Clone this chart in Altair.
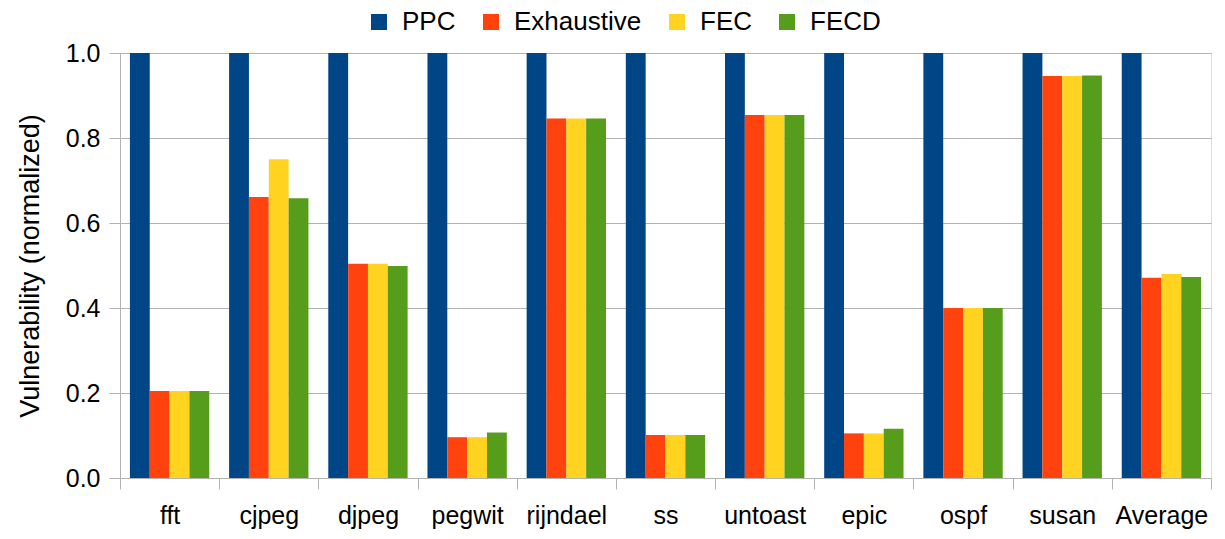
import altair as alt
import pandas as pd

# Benchmarks along the x axis
benchmarks = ["fft", "cjpeg", "djpeg", "pegwit", "rijndael", "ss",
              "untoast", "epic", "ospf", "susan", "Average"]

# Normalized vulnerability per technique
ppc        = [1.0, 1.0, 1.0, 1.0, 1.0, 1.0, 1.0, 1.0, 1.0, 1.0, 1.0]
exhaustive = [0.205, 0.661, 0.504, 0.096, 0.846, 0.101, 0.854, 0.105, 0.400, 0.946, 0.471]
fec        = [0.205, 0.750, 0.504, 0.096, 0.846, 0.101, 0.854, 0.105, 0.400, 0.946, 0.480]
fecd       = [0.205, 0.658, 0.499, 0.107, 0.846, 0.101, 0.854, 0.116, 0.400, 0.947, 0.473]

series_names = ["PPC", "Exhaustive", "FEC", "FECD"]
series_colors = ["#004586", "#ff420e", "#ffd320", "#579d1c"]

rows = []
for name, vals in zip(series_names, [ppc, exhaustive, fec, fecd]):
    for b, v in zip(benchmarks, vals):
        rows.append({"benchmark": b, "technique": name, "value": v})
df = pd.DataFrame(rows)

FONT = "Liberation Sans"
GRID = "#b3b3b3"

chart = alt.Chart(df).mark_bar().encode(
    x=alt.X(
        "benchmark:N",
        sort=benchmarks,
        title=None,
        scale=alt.Scale(paddingInner=0, paddingOuter=0),
        axis=alt.Axis(
            tickBand="extent",
            labelAngle=0,
            labelFont=FONT,
            labelFontSize=25,
            labelColor="black",
            labelPadding=14,
            tickSize=11,
            tickColor=GRID,
            domainColor=GRID,
            grid=False,
        ),
    ),
    xOffset=alt.XOffset(
        "technique:N",
        sort=series_names,
        scale=alt.Scale(paddingInner=0, paddingOuter=0.5),
    ),
    y=alt.Y(
        "value:Q",
        title="Vulnerability (normalized)",
        scale=alt.Scale(domain=[0, 1], nice=False),
        axis=alt.Axis(
            values=[0, 0.2, 0.4, 0.6, 0.8, 1.0],
            format=".1f",
            labelFont=FONT,
            labelFontSize=25,
            labelColor="black",
            labelPadding=9,
            tickSize=11,
            tickColor=GRID,
            domainColor=GRID,
            gridColor=GRID,
            titleFont=FONT,
            titleFontSize=27,
            titleFontWeight="normal",
            titleColor="black",
            titlePadding=21,
        ),
    ),
    color=alt.Color(
        "technique:N",
        sort=series_names,
        scale=alt.Scale(domain=series_names, range=series_colors),
        legend=alt.Legend(
            title=None,
            orient="none",
            direction="horizontal",
            legendX=246,
            legendY=-44,
            symbolType="square",
            symbolSize=256,
            symbolStrokeWidth=0,
            symbolOpacity=1,
            labelFont=FONT,
            labelFontSize=26,
            labelColor="black",
            labelOffset=10,
            columnPadding=22,
        ),
    ),
).properties(
    width=1091,
    height=425,
    autosize=alt.AutoSizeParams(type="none"),
    padding={"left": 120, "top": 53, "right": 14, "bottom": 61},
).configure_view(
    stroke=GRID,
    strokeWidth=1,
).configure(background="white")

chart.save("out.html", embed_options={"renderer": "svg", "actions": False})
